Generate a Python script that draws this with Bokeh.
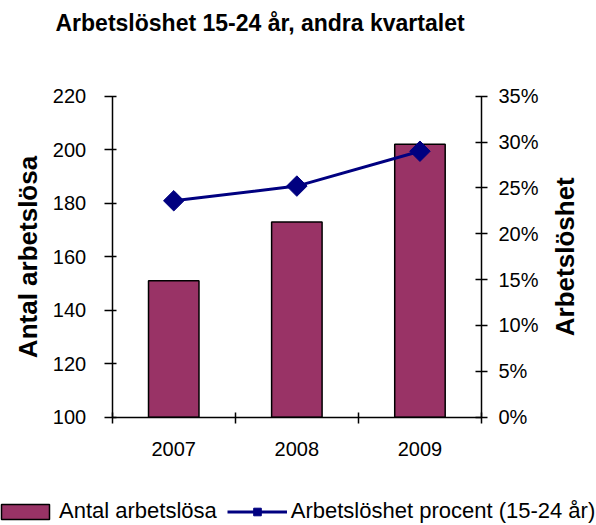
import math
from bokeh.plotting import figure
from bokeh.models import (Range1d, LinearAxis, FixedTicker, NumeralTickFormatter,
                          Legend, LegendItem, Title)
from bokeh.core.properties import value
from bokeh.embed import file_html
from bokeh.resources import INLINE

years = ["2007", "2008", "2009"]
antal = [151, 173, 202]
procent = [0.236, 0.252, 0.290]
left_ticks = [100, 120, 140, 160, 180, 200, 220]
right_ticks = [0.0, 0.05, 0.10, 0.15, 0.20, 0.25, 0.30, 0.35]

FONT = "Liberation Sans"
BAR_COLOR = "#993366"
LINE_COLOR = "#000080"
TICK_FS = "20px"
LABEL_FS = "26px"

# layout in pixels
W, TOP, H = 596, 60, 525
FH = H - TOP
AX_L, AX_R = 111.7, 481.0            # plot area left / right
AX_T, AX_B = 95.7 - TOP, 416.7 - TOP  # plot area top / bottom, measured from frame top
RLABEL_X = 564                        # centre of the right axis title

n = len(years)
xs = [i + 0.5 for i in range(n)]
y0, y1 = left_ticks[0], left_ticks[-1]
p0, p1 = right_ticks[0], right_ticks[-1]

ppx = (AX_R - AX_L) / n
x_rng = Range1d(-AX_L / ppx, n + (W - AX_R) / ppx)
ppy = (AX_B - AX_T) / (y1 - y0)
y_rng = Range1d(y0 - (FH - AX_B) / ppy, y1 + AX_T / ppy)
ppp = (AX_B - AX_T) / (p1 - p0)
p_rng = Range1d(p0 - (FH - AX_B) / ppp, p1 + AX_T / ppp)

p = figure(frame_width=W, frame_height=FH, output_backend="svg", toolbar_location=None,
           x_range=x_rng, y_range=y_rng, x_axis_location=None, y_axis_location=None,
           min_border_left=0, min_border_right=0, min_border_top=TOP,
           min_border_bottom=0, title=None)
p.outline_line_color = None
p.xgrid.visible = False
p.ygrid.visible = False
p.extra_y_ranges = {"pct": p_rng}

# spacer between plot area and title, then the title (stacked outward)
p.add_layout(Title(text=" ", text_font=FONT, text_font_size="21px", standoff=0), "above")
p.add_layout(Title(text="Arbetslöshet 15-24 år, andra kvartalet", text_font=FONT,
                   text_font_size="23px", text_font_style="bold", align="left", offset=55,
                   text_color="black", standoff=0), "above")

bars = p.vbar(x=xs, top=antal, bottom=y0, width=0.41, fill_color=BAR_COLOR,
              line_color="black", line_width=1.5)
line = p.line(x=xs, y=procent, y_range_name="pct", line_color=LINE_COLOR, line_width=3)
pts = p.scatter(x=xs, y=procent, y_range_name="pct", marker="square", size=14.5,
                angle=math.pi / 4, fill_color=LINE_COLOR, line_color=LINE_COLOR)


def style(ax, fs=TICK_FS):
    ax.axis_line_width = 1.5
    ax.axis_line_color = "black"
    ax.major_tick_line_width = 1.5
    ax.major_tick_line_color = "black"
    ax.minor_tick_line_width = 1.5
    ax.minor_tick_line_color = "black"
    ax.major_label_text_font = FONT
    ax.major_label_text_font_size = fs
    ax.major_label_text_color = "black"
    ax.axis_label_text_font = FONT
    ax.axis_label_text_font_size = LABEL_FS
    ax.axis_label_text_font_style = "bold"
    ax.axis_label_text_color = "black"


# x axis
xa = LinearAxis(fixed_location=y0, bounds=(0, n),
                ticker=FixedTicker(ticks=xs, minor_ticks=list(range(n + 1))))
style(xa)
xa.major_label_overrides = {x: y for x, y in zip(xs, years)}
xa.major_tick_in = 0
xa.major_tick_out = 0
xa.minor_tick_in = 5
xa.minor_tick_out = 6
xa.major_label_standoff = 19
p.add_layout(xa, "below")

# left axis
ya = LinearAxis(fixed_location=0, bounds=(y0, y1),
                ticker=FixedTicker(ticks=left_ticks, minor_ticks=[]))
style(ya)
ya.major_tick_in = 4
ya.major_tick_out = 8
ya.major_label_standoff = 18
ya.axis_label = "Antal arbetslösa"
ya.axis_label_standoff = 7
p.add_layout(ya, "left")

# right axis
ra = LinearAxis(y_range_name="pct", fixed_location=n, bounds=(p0, p1),
                ticker=FixedTicker(ticks=right_ticks, minor_ticks=[]),
                formatter=NumeralTickFormatter(format="0%"))
style(ra)
ra.major_tick_in = 6
ra.major_tick_out = 6
ra.major_label_standoff = 11
p.add_layout(ra, "right")

# right axis title, reading bottom to top
p.text(x=[x_rng.start + RLABEL_X / ppx], y=[(p0 + p1) / 2], y_range_name="pct",
       text=["Arbetslöshet"], angle=math.pi / 2, text_align="center",
       text_baseline="middle", text_font=value(FONT), text_font_size=LABEL_FS,
       text_font_style="bold", text_color="black")

legend = Legend(items=[LegendItem(label="Antal arbetslösa", renderers=[bars]),
                       LegendItem(label="Arbetslöshet procent (15-24 år)",
                                  renderers=[line, pts])],
                orientation="horizontal", location=(-5, 1),
                label_text_font=FONT, label_text_font_size="22px", label_text_color="black",
                glyph_width=60, glyph_height=19, label_standoff=4, spacing=10,
                padding=0, margin=0, border_line_color=None, background_fill_alpha=0)
p.add_layout(legend, "center")

open("out.html", "w").write(file_html(p, INLINE))
